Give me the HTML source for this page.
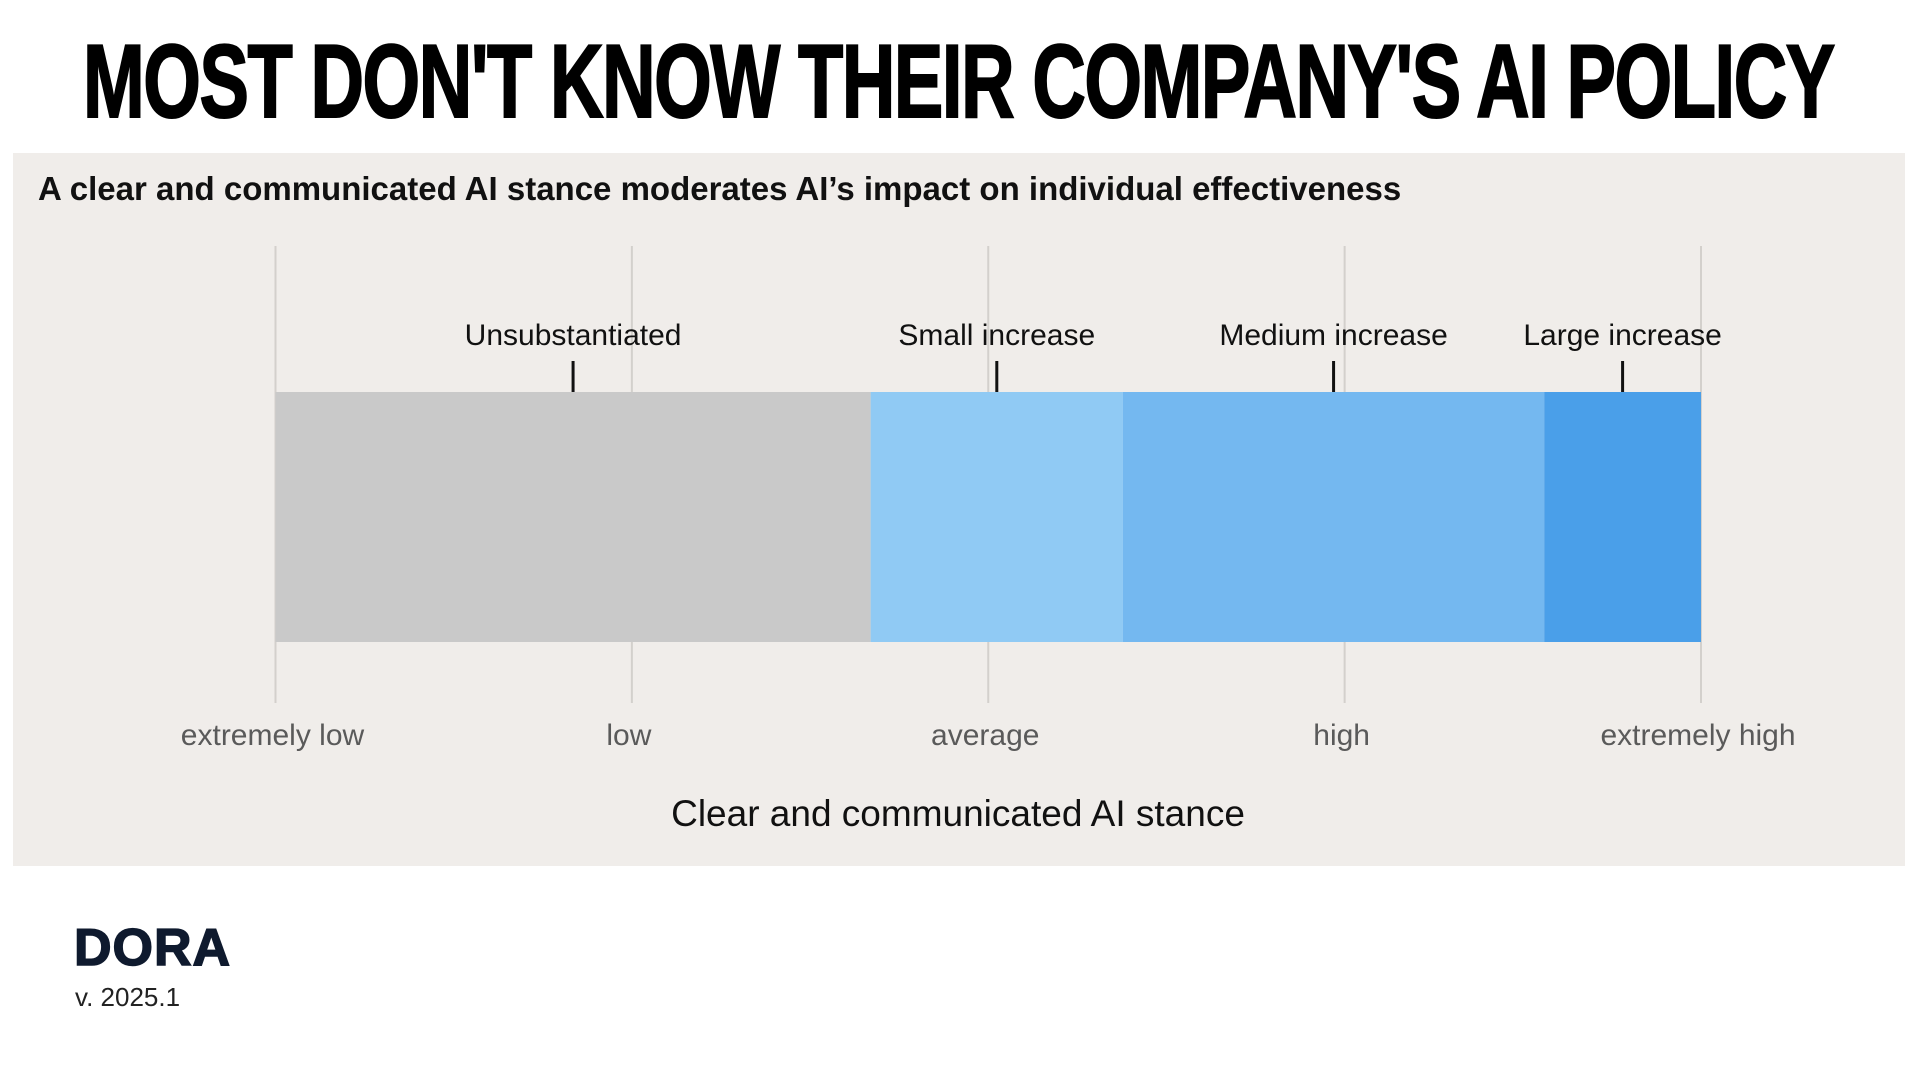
<!DOCTYPE html>
<html><head><meta charset="utf-8"><style>
body{margin:0;width:1920px;height:1080px;background:#fff;position:relative;overflow:hidden;font-family:"Liberation Sans",sans-serif}
#tspan{position:absolute;left:83px;top:22px;font-weight:bold;font-size:104px;line-height:120px;white-space:nowrap;color:#000;transform-origin:0 50%;letter-spacing:-2px;-webkit-text-stroke:2px #000}
#panel{position:absolute;left:13px;top:153px;width:1892px;height:713px;background:#f0edea}
#sub{position:absolute;left:38px;top:170px;font-size:33px;font-weight:bold;color:#111;white-space:nowrap}
#dora{position:absolute;left:74px;top:918px;font-size:52px;font-weight:900;color:#0f1a2e;letter-spacing:1px;-webkit-text-stroke:1.5px #0f1a2e}
#ver{position:absolute;left:75px;top:982px;font-size:26px;color:#222}
</style></head><body>
<div id="tspan">MOST DON'T KNOW THEIR COMPANY'S AI POLICY</div>
<div id="panel"></div>
<div id="sub">A clear and communicated AI stance moderates AI’s impact on individual effectiveness</div>
<svg id="chart" width="1920" height="1080" style="position:absolute;left:0;top:0"></svg>
<div id="dora">DORA</div>
<div id="ver">v. 2025.1</div>
<script>
const tickLabels=["extremely low","low","average","high","extremely high"];
const segStarts=[0,1.67,2.378,3.56];
const segEnds=[1.67,2.378,3.56,4];
const segColors=["#c9c9c9","#90caf4","#74b8f0","#4a9fe9"];
const segNames=["unsubstantiated","small-increase","medium-increase","large-increase"];
const markerLabels=["Unsubstantiated","Small increase","Medium increase","Large increase"];
const markerValues=[0.835,2.024,2.969,3.78];

const t=document.getElementById('tspan');
t.style.transform='scaleX('+(1751/t.offsetWidth)+')';
const NS='http://www.w3.org/2000/svg';
const svg=document.getElementById('chart');
const x=v=>275.5+v*(1701-275.5)/4;
const barTop=392,barBot=642;
function mk(tag,attrs){const e=document.createElementNS(NS,tag);for(const k in attrs)e.setAttribute(k,attrs[k]);svg.appendChild(e);return e;}
tickLabels.forEach((lab,i)=>{
  const g=mk('line',{x1:x(i),x2:x(i),y1:246,y2:703,stroke:'#d3d0cc','stroke-width':2});
  
  
  const tx=mk('text',{x:x(i)-3,y:745,'text-anchor':'middle','font-size':30,fill:'#5a5a5a','font-family':'Liberation Sans, sans-serif'});
  tx.textContent=lab;
  
  
});
segStarts.forEach((s,i)=>{
  const r=mk('rect',{x:x(s),y:barTop,width:x(segEnds[i])-x(s),height:barBot-barTop,fill:segColors[i]});
  
  
});
markerValues.forEach((v,i)=>{
  const l=mk('line',{x1:x(v),x2:x(v),y1:361,y2:392,stroke:'#111','stroke-width':3});
  
  
  const tx=mk('text',{x:x(v),y:345,'text-anchor':'middle','font-size':30,fill:'#111','font-family':'Liberation Sans, sans-serif'});
  tx.textContent=markerLabels[i];
  
  
});
const at=mk('text',{x:958,y:826,'text-anchor':'middle','font-size':37,fill:'#111','font-family':'Liberation Sans, sans-serif'});
at.textContent='Clear and communicated AI stance';


</script>
</body></html>
